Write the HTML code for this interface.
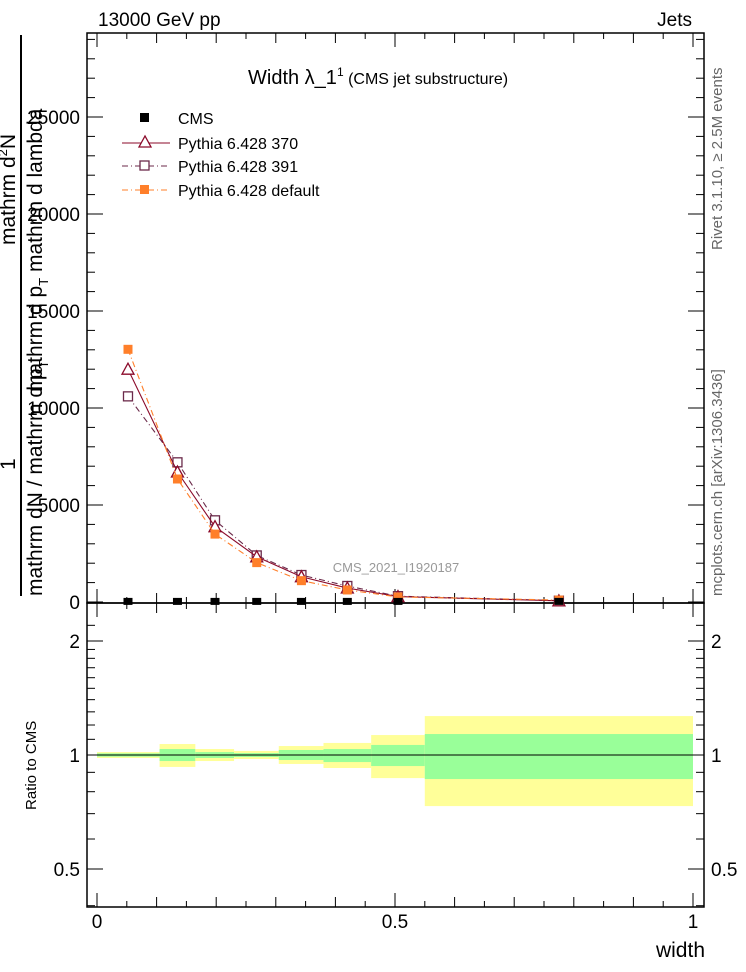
<!DOCTYPE html>
<html><head><meta charset="utf-8"><style>
body{margin:0;background:#fff;}
svg{display:block;font-family:"Liberation Sans",sans-serif;}
</style></head><body>
<svg id="chart" width="746" height="972" xmlns="http://www.w3.org/2000/svg">
<g id="bands"></g>
<g id="axes"></g>
<g id="marks"></g>
<text x="98" y="26" font-size="19">13000 GeV pp</text>
<text x="692" y="26" font-size="19" text-anchor="end">Jets</text>
<text x="248" y="84" font-size="20">Width λ_1<tspan font-size="12" dy="-8">1</tspan><tspan font-size="16" dy="8"> (CMS jet substructure)</tspan></text>
<text x="396" y="572" font-size="13" fill="#999" text-anchor="middle">CMS_2021_I1920187</text>
<text transform="translate(722,250) rotate(-90)" font-size="15" fill="#666">Rivet 3.1.10, ≥ 2.5M events</text>
<text transform="translate(722,596) rotate(-90)" font-size="15" fill="#666">mcplots.cern.ch [arXiv:1306.3436]</text>
<g font-size="21">
<line x1="21" y1="35" x2="21" y2="596" stroke="#000" stroke-width="2"/>
<text transform="translate(15,245) rotate(-90)">mathrm d<tspan font-size="13" dy="-8">2</tspan><tspan dy="8">N</tspan></text>
<text transform="translate(42,392) rotate(-90)">mathrm d p<tspan font-size="13" dy="6">T</tspan><tspan dy="-6"> mathrm d lambda</tspan></text>
<text transform="translate(15,470) rotate(-90)">1</text>
<text transform="translate(42,596) rotate(-90)">mathrm dN / mathrm d p<tspan font-size="13" dy="6">T</tspan></text>
</g>
<text transform="translate(36,810) rotate(-90)" font-size="15">Ratio to CMS</text>
<text x="705" y="957" font-size="21" text-anchor="end">width</text>
<g font-size="16">
<rect x="140" y="113" width="9" height="9" fill="#000"/>
<text x="178" y="124">CMS</text>
<line x1="122" y1="143" x2="170" y2="143" stroke="#8b0a2a"/>
<polygon points="145,136 139,147 151,147" fill="#fff" stroke="#8b0a2a" stroke-width="1.3"/>
<text x="178" y="149">Pythia 6.428 370</text>
<line x1="122" y1="166" x2="170" y2="166" stroke="#6b2a4a" stroke-dasharray="6,3,1,3"/>
<rect x="140" y="161" width="9" height="9" fill="#fff" stroke="#6b2a4a" stroke-width="1.3"/>
<text x="178" y="172">Pythia 6.428 391</text>
<line x1="122" y1="190" x2="170" y2="190" stroke="#ff7f2a" stroke-dasharray="6,3,1,3"/>
<rect x="140" y="185" width="9" height="9" fill="#ff7f2a"/>
<text x="178" y="196">Pythia 6.428 default</text>
</g>
</svg>
<script>
const binEdges=[0,0.105,0.165,0.23,0.305,0.38,0.46,0.55,1.0];
const binCenters=[0.052,0.135,0.198,0.268,0.343,0.42,0.505,0.775];
const cmsVals=[5,5,5,5,5,5,5,5];
const p370=[12000,6700,3880,2330,1300,720,280,60];
const p391=[10600,7200,4210,2400,1390,825,300,70];
const pDef=[13025,6340,3500,2030,1100,620,260,100];
const yelUp=[1.018,1.069,1.037,1.025,1.056,1.076,1.129,1.267];
const yelDn=[0.982,0.930,0.964,0.976,0.947,0.924,0.869,0.733];
const grnUp=[1.010,1.037,1.018,1.012,1.031,1.037,1.063,1.136];
const grnDn=[0.990,0.964,0.982,0.988,0.970,0.958,0.935,0.864];
const yTicks=[0,5000,10000,15000,20000,25000];
const yTickLabels=["0","5000","10000","15000","20000","25000"];
const rTicks=[0.5,1,2];
const rTickLabels=["0.5","1","2"];
const xTicks=[0,0.5,1];
const xTickLabels=["0","0.5","1"];

const NS="http://www.w3.org/2000/svg";
const L=87,R=704,T=33,MB=603,RB=907;
const X=v=>97+v*596;
const Y=v=>602-v*0.0194;
const RY=v=>755-Math.log2(v)*114;
function mk(tag,attrs,parent){const e=document.createElementNS(NS,tag);for(const k in attrs)e.setAttribute(k,attrs[k]);parent.appendChild(e);return e;}
const bands=document.getElementById('bands'),axes=document.getElementById('axes'),marks=document.getElementById('marks');

for(let i=0;i<binCenters.length;i++){
  const x0=X(binEdges[i]),x1=X(binEdges[i+1]);
  const y=mk('rect',{x:x0,y:RY(yelUp[i]),width:x1-x0,height:RY(yelDn[i])-RY(yelUp[i]),fill:'#ffff99'},bands);
  
  
  const g=mk('rect',{x:x0,y:RY(grnUp[i]),width:x1-x0,height:RY(grnDn[i])-RY(grnUp[i]),fill:'#99ff99'},bands);
  
  
}
const rl=mk('line',{x1:X(0),x2:X(1),y1:RY(1),y2:RY(1),stroke:'#000'},bands);



const f1=mk('rect',{x:L,y:T,width:R-L,height:MB-T,fill:'none',stroke:'#000','stroke-width':1.5},axes);


const f2=mk('rect',{x:L,y:MB,width:R-L,height:RB-MB,fill:'none',stroke:'#000','stroke-width':1.5},axes);



for(let k=0;k<=20;k++){
  const v=k*0.05,x=X(v);
  const len=(k%10===0)?14:(k%2===0?10:6);
  for(const [yb,dir] of [[MB,-1],[T,1],[RB,-1],[MB,1]]){
    mk('line',{x1:x,x2:x,y1:yb,y2:yb+dir*len,stroke:'#000'},axes);
  }
}
xTicks.forEach((v,i)=>{
  const t=mk('text',{x:X(v),y:928,'font-size':19,'text-anchor':'middle'},axes);
  t.textContent=xTickLabels[i];
  
  
});
for(let v=0;v<=29000;v+=1000){
  const y=Y(v);if(y<T)break;
  const len=v%5000===0?16:8;
  mk('line',{x1:L,x2:L+len,y1:y,y2:y,stroke:'#000'},axes);
  mk('line',{x1:R,x2:R-len,y1:y,y2:y,stroke:'#000'},axes);
}
yTicks.forEach((v,i)=>{
  const t=mk('text',{x:80,y:Y(v)+7,'font-size':19,'text-anchor':'end'},axes);
  t.textContent=yTickLabels[i];
  
  
});
const rMinor=[0.4,0.5,0.6,0.7,0.8,0.9,1,1.1,1.2,1.3,1.4,1.5,1.6,1.7,1.8,1.9,2,2.2];
rMinor.forEach(v=>{const y=RY(v);if(y<MB||y>RB)return;const len=(v===0.5||v===1||v===2)?16:8;
  mk('line',{x1:L,x2:L+len,y1:y,y2:y,stroke:'#000'},axes);mk('line',{x1:R,x2:R-len,y1:y,y2:y,stroke:'#000'},axes);});
rTicks.forEach((v,i)=>{
  const t=mk('text',{x:80,y:RY(v)+7,'font-size':19,'text-anchor':'end'},axes);
  t.textContent=rTickLabels[i];
  
  
  const t2=mk('text',{x:711,y:RY(v)+7,'font-size':19},axes);
  t2.textContent=rTickLabels[i];
  
  
});

function series(vals,color,dash,name,marker){
  const pts=vals.map((v,i)=>X(binCenters[i])+','+Y(v)).join(' ');
  const pl=mk('polyline',{points:pts,fill:'none',stroke:color,'stroke-width':1.1},marks);
  if(dash)pl.setAttribute('stroke-dasharray',dash);
  
  
  vals.forEach((v,i)=>{
    const x=X(binCenters[i]),y=Y(v);let m;
    if(marker==='tri')m=mk('polygon',{points:`${x},${y-6} ${x-6},${y+5} ${x+6},${y+5}`,fill:'#fff',stroke:color,'stroke-width':1.3},marks);
    else if(marker==='open')m=mk('rect',{x:x-4.5,y:y-4.5,width:9,height:9,fill:'#fff',stroke:color,'stroke-width':1.3},marks);
    else m=mk('rect',{x:x-4.5,y:y-4.5,width:9,height:9,fill:color},marks);
    
    
  });
}
series(p391,'#6b2a4a','6,3,1,3','pythia-391','open');
series(p370,'#8b0a2a',null,'pythia-370','tri');
series(pDef,'#ff7f2a','6,3,1,3','pythia-default','fill');
cmsVals.forEach((v,i)=>{
  const m=mk('rect',{x:X(binCenters[i])-4.5,y:Y(v)-4,width:9,height:7,fill:'#000'},marks);
  
  
});
</script>
</body></html>
